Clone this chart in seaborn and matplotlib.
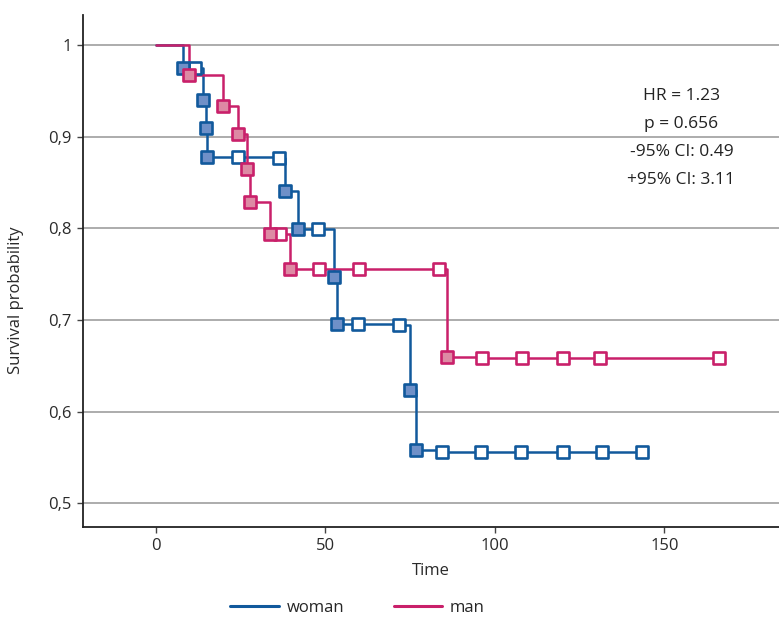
import numpy as np
import pandas as pd
import matplotlib
matplotlib.use('Agg')
import matplotlib.pyplot as plt
from matplotlib.lines import Line2D
import seaborn as sns

# Date (Kaplan-Meier)
woman_time = [0, 8, 11.5, 14, 14.7, 15, 24.2, 36.3, 38, 42, 47.7, 52.5, 53.5, 59.7,
              71.8, 75, 76.7, 84.5, 95.8, 107.7, 120.1, 131.5, 143.3]
woman_surv = [1, 0.975, 0.975, 0.940, 0.909, 0.878, 0.878, 0.877, 0.841, 0.799, 0.799,
              0.747, 0.695, 0.695, 0.694, 0.624, 0.558, 0.556, 0.556, 0.556, 0.556, 0.556, 0.556]
woman_event = [-1, 1, 0, 1, 1, 1, 0, 0, 1, 1, 0, 1, 1, 0, 0, 1, 1, 0, 0, 0, 0, 0, 0]

man_time = [0, 9.8, 19.9, 24.3, 26.9, 27.7, 33.6, 36.6, 39.5, 48.2, 60, 83.6, 86,
            96.1, 108.1, 120, 131, 166.2]
man_surv = [1, 0.967, 0.933, 0.903, 0.865, 0.829, 0.794, 0.794, 0.755, 0.755, 0.755,
            0.755, 0.660, 0.659, 0.659, 0.659, 0.659, 0.659]
man_event = [-1, 1, 1, 1, 1, 1, 1, 0, 1, 0, 0, 0, 1, 0, 0, 0, 0, 0]

stats_text = ['HR = 1.23', 'p = 0.656', '-95% CI: 0.49', '+95% CI: 3.11']
yticks = [0.5, 0.6, 0.7, 0.8, 0.9, 1.0]
ytick_labels = ['0,5', '0,6', '0,7', '0,8', '0,9', '1']
xticks = [0, 50, 100, 150]

df = pd.concat([
    pd.DataFrame({'time': woman_time, 'surv': woman_surv, 'event': woman_event, 'group': 'woman'}),
    pd.DataFrame({'time': man_time, 'surv': man_surv, 'event': man_event, 'group': 'man'}),
], ignore_index=True)

line_col = {'woman': '#11599c', 'man': '#c9206a'}
face_col = {'woman': '#6f90c8', 'man': '#dd8aa4'}

sns.set_theme(style='white')
plt.rcParams['font.family'] = ['Open Sans', 'DejaVu Sans']

fig = plt.figure(figsize=(7.79, 6.19), dpi=100)
ax = fig.add_axes([0.1062, 0.1481, 0.8938, 0.8269])

for g in ['woman', 'man']:
    d = df[df['group'] == g]
    sns.lineplot(data=d, x='time', y='surv', color=line_col[g], drawstyle='steps-post',
                 estimator=None, sort=False, linewidth=1.8, ax=ax, legend=False, zorder=3)
    ev = d[d['event'] == 1]
    ce = d[d['event'] == 0]
    sns.scatterplot(data=ce, x='time', y='surv', marker='s', s=85, color='white',
                    edgecolor=line_col[g], linewidth=1.9, ax=ax, legend=False, zorder=4)
    sns.scatterplot(data=ev, x='time', y='surv', marker='s', s=85, color=face_col[g],
                    edgecolor=line_col[g], linewidth=1.9, ax=ax, legend=False, zorder=4)

ax.set_xlim(-21.6, 183.8)
ax.set_ylim(0.4738, 1.032)
ax.set_xticks(xticks)
ax.set_yticks(yticks)
ax.set_yticklabels(ytick_labels)
ax.yaxis.grid(True, color='#a6a6a6', linewidth=1.3)
ax.xaxis.grid(False)
ax.set_axisbelow(True)
for s in ['top', 'right']:
    ax.spines[s].set_visible(False)
for s in ['left', 'bottom']:
    ax.spines[s].set_color('#222222')
    ax.spines[s].set_linewidth(1.3)
ax.tick_params(axis='both', which='both', direction='out', length=4, width=1,
               color='#444444', labelsize=12, labelcolor='#2a2a2a', pad=4,
               bottom=True, left=True)

ax.set_xlabel('Time', fontsize=12, color='#2a2a2a', labelpad=6)
ax.set_ylabel('Survival probability', fontsize=12, color='#2a2a2a')
ax.yaxis.set_label_coords(-0.0843, 0.444)

y0 = 0.944
for i, t in enumerate(stats_text):
    ax.text(155, y0 - i * 0.0305, t, ha='center', va='center', fontsize=12.5, color='#222222')

handles = [Line2D([0], [0], color=line_col['woman'], lw=2.2),
           Line2D([0], [0], color=line_col['man'], lw=2.2)]
fig.legend(handles, ['woman', 'man'], loc='center', bbox_to_anchor=(0.459, 0.018),
           ncol=2, frameon=False, handlelength=2.9, columnspacing=3.0, handletextpad=0.45,
           prop={'size': 12})

fig.savefig('out.png', dpi=100)
